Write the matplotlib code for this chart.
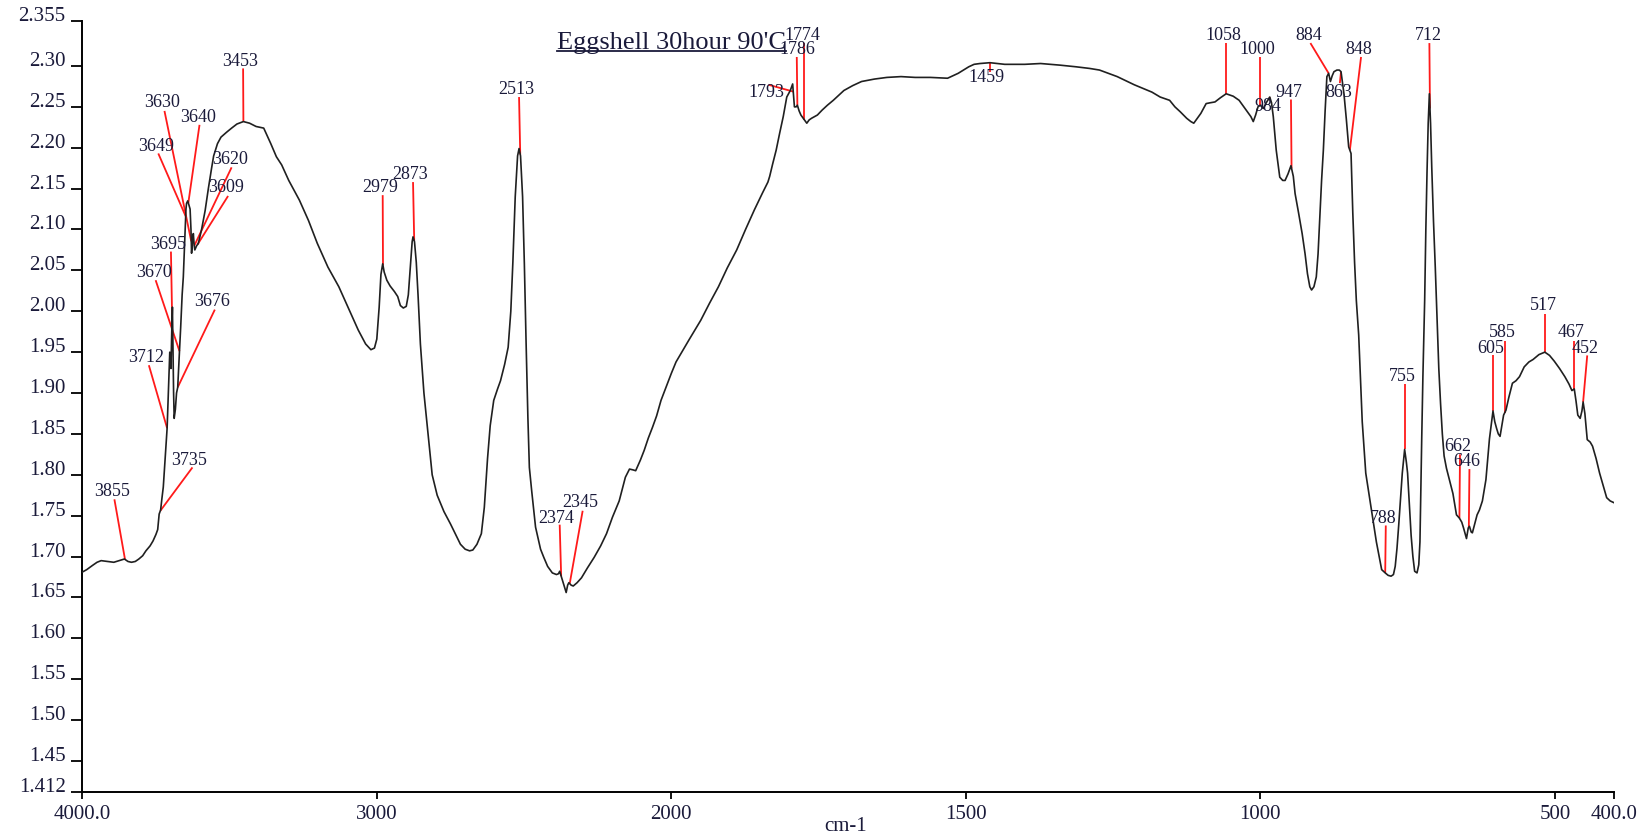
import matplotlib
matplotlib.use('Agg')
import matplotlib.pyplot as plt
import numpy as np
from matplotlib.lines import Line2D

# Спектр (волновое число, см-1 -> поглощение)
wavenumber = [
    4000, 3985, 3966, 3950, 3936, 3915, 3893, 3875, 3857, 3845, 3833, 3820, 3808, 3795,
    3784, 3770, 3760, 3750, 3744, 3739, 3734, 3730, 3725,
    3721, 3717, 3712, 3708, 3703, 3699, 3696, 3694, 3692, 3690, 3688, 3684, 3680, 3676,
    3673, 3671, 3666, 3661, 3657, 3652, 3648, 3646, 3642, 3638, 3634, 3631, 3629, 3626,
    3623, 3620, 3618, 3612, 3606, 3595, 3583, 3572, 3561, 3554,
    3541, 3529, 3510, 3493, 3475, 3453, 3432, 3410, 3384, 3360,
    3341, 3323, 3299, 3263, 3232, 3202, 3166, 3129, 3093, 3063, 3038, 3020, 3008, 3000,
    2992, 2986, 2980, 2975, 2966, 2955, 2940, 2929, 2920, 2910, 2900, 2893, 2887, 2880,
    2877, 2872, 2866, 2860, 2852, 2840, 2826, 2812, 2795, 2772, 2750, 2735, 2716, 2700,
    2685, 2674, 2660, 2645, 2635, 2624, 2615, 2603, 2590, 2580, 2566, 2554, 2545, 2538,
    2530, 2522, 2517, 2512, 2505, 2499, 2493, 2487, 2482, 2474, 2461, 2444, 2433, 2420,
    2404, 2390, 2383, 2379, 2374, 2369, 2362, 2357, 2352, 2348, 2340, 2333, 2320, 2305,
    2285, 2262, 2240, 2220, 2200, 2177, 2156, 2142, 2130, 2121, 2105, 2092, 2078, 2064,
    2050, 2035, 2015, 2000, 1992, 1970, 1950, 1935, 1920, 1905, 1889, 1874, 1859, 1845,
    1836, 1833, 1828, 1822, 1816, 1810, 1804, 1798, 1794, 1791, 1788, 1786, 1783, 1780,
    1776, 1773, 1770, 1766, 1762, 1752, 1744, 1735, 1725, 1716, 1707, 1692, 1677, 1655,
    1634, 1610, 1586, 1560, 1531, 1522, 1513, 1504, 1495, 1486, 1476, 1459, 1434, 1400,
    1373, 1340, 1313, 1290, 1273, 1243, 1214, 1184, 1170, 1154, 1145, 1136, 1125, 1118,
    1113, 1107, 1101, 1092, 1085, 1077, 1068, 1058, 1046, 1036, 1024, 1016, 1012, 1008,
    1004, 1000, 995, 990, 984, 981, 978, 973, 967, 962, 958, 953, 948, 944,
    941, 935, 929, 924, 920, 916, 913, 909, 905, 902, 899, 896, 893, 890,
    887, 884, 881, 878, 875, 870, 866, 863, 858, 854, 850, 846, 843, 840,
    837, 833, 827, 821, 812, 803, 797, 794, 788, 783, 778, 774, 771, 768,
    765, 762, 759, 755, 752, 750, 747, 744, 741, 738, 734, 731, 729, 726,
    724, 721, 719, 717, 715, 713, 711, 709, 706, 703, 700, 697, 694, 691,
    688, 684, 679, 673, 667, 662, 658, 655, 650, 647, 645, 642, 640, 636,
    632, 628, 623, 617, 611, 605, 602, 599, 596, 593, 590, 587, 583, 578,
    572, 566, 560, 552, 544, 537, 527, 517, 509, 501, 492, 483, 476, 471,
    467, 464, 461, 457, 454, 452, 449, 445, 440, 436, 430, 424, 418, 412,
    406, 400,
]
absorbance = [
    1.681, 1.684, 1.689, 1.693, 1.695, 1.694, 1.693, 1.695, 1.697, 1.694, 1.693, 1.694, 1.697, 1.701,
    1.707, 1.713, 1.719, 1.727, 1.733, 1.752, 1.757, 1.770, 1.785,
    1.807, 1.830, 1.857, 1.900, 1.950, 1.930, 1.980, 2.005, 1.950, 1.900, 1.869, 1.880, 1.900, 1.907,
    1.930, 1.944, 1.980, 2.020, 2.042, 2.090, 2.125, 2.132, 2.135, 2.130, 2.125, 2.100, 2.071, 2.085,
    2.095, 2.080, 2.075, 2.080, 2.083, 2.100, 2.123, 2.150, 2.175, 2.190,
    2.205, 2.213, 2.219, 2.224, 2.229, 2.232, 2.230, 2.226, 2.224, 2.205,
    2.189, 2.179, 2.160, 2.136, 2.111, 2.083, 2.054, 2.030, 2.001, 1.977, 1.960, 1.953, 1.955, 1.966,
    2.005, 2.045, 2.058, 2.048, 2.038, 2.031, 2.024, 2.018, 2.007, 2.004, 2.006, 2.020, 2.050, 2.085,
    2.091, 2.085, 2.060, 2.020, 1.960, 1.900, 1.850, 1.800, 1.775, 1.755, 1.740, 1.729, 1.715, 1.709,
    1.707, 1.708, 1.715, 1.728, 1.760, 1.820, 1.860, 1.891, 1.905, 1.915, 1.935, 1.956, 2.000, 2.060,
    2.140, 2.190, 2.199, 2.190, 2.140, 2.058, 1.960, 1.870, 1.809, 1.780, 1.736, 1.709, 1.699, 1.688,
    1.680, 1.678, 1.679, 1.682, 1.676, 1.670, 1.662, 1.656, 1.665, 1.668, 1.665, 1.664, 1.668, 1.674,
    1.686, 1.699, 1.713, 1.728, 1.748, 1.768, 1.797, 1.807, 1.806, 1.805, 1.818, 1.830, 1.845, 1.858,
    1.872, 1.891, 1.910, 1.924, 1.938, 1.965, 1.989, 2.010, 2.030, 2.053, 2.075, 2.100, 2.124, 2.145,
    2.158, 2.165, 2.180, 2.197, 2.218, 2.238, 2.262, 2.270, 2.278, 2.250, 2.250, 2.252, 2.245, 2.240,
    2.236, 2.233, 2.230, 2.234, 2.236, 2.240, 2.246, 2.252, 2.258, 2.264, 2.270, 2.276, 2.281, 2.284,
    2.286, 2.287, 2.286, 2.286, 2.285, 2.288, 2.291, 2.295, 2.299, 2.302, 2.303, 2.304, 2.302, 2.302,
    2.303, 2.301, 2.299, 2.297, 2.295, 2.287, 2.277, 2.268, 2.262, 2.258, 2.250, 2.244, 2.236, 2.232,
    2.230, 2.236, 2.242, 2.254, 2.255, 2.256, 2.261, 2.266, 2.263, 2.258, 2.246, 2.238, 2.232, 2.240,
    2.250, 2.252, 2.248, 2.255, 2.262, 2.255, 2.238, 2.197, 2.164, 2.160, 2.160, 2.168, 2.178, 2.165,
    2.144, 2.120, 2.095, 2.070, 2.046, 2.030, 2.026, 2.030, 2.042, 2.070, 2.115, 2.160, 2.197, 2.245,
    2.287, 2.291, 2.281, 2.288, 2.293, 2.295, 2.295, 2.293, 2.266, 2.235, 2.201, 2.193, 2.120, 2.060,
    2.013, 1.971, 1.865, 1.802, 1.760, 1.718, 1.695, 1.684, 1.680, 1.677, 1.676, 1.678, 1.688, 1.710,
    1.739, 1.770, 1.802, 1.831, 1.815, 1.802, 1.765, 1.726, 1.700, 1.682, 1.680, 1.690, 1.718, 1.844,
    1.920, 2.013, 2.100, 2.170, 2.230, 2.266, 2.230, 2.177, 2.110, 2.054, 1.990, 1.930, 1.887, 1.850,
    1.823, 1.808, 1.794, 1.777, 1.751, 1.747, 1.742, 1.735, 1.722, 1.735, 1.737, 1.730, 1.729, 1.740,
    1.751, 1.757, 1.768, 1.794, 1.844, 1.878, 1.865, 1.857, 1.850, 1.847, 1.860, 1.873, 1.879, 1.895,
    1.912, 1.915, 1.920, 1.932, 1.938, 1.941, 1.947, 1.950, 1.946, 1.939, 1.930, 1.920, 1.911, 1.903,
    1.905, 1.890, 1.873, 1.869, 1.878, 1.889, 1.875, 1.843, 1.840, 1.835, 1.820, 1.802, 1.787, 1.772,
    1.768, 1.766,
]

# Подписи пиков
peak_names = ['3855', '3735', '3712', '3676', '3670', '3695', '3609', '3620', '3649', '3640',
              '3630', '3453', '2979', '2873', '2513', '2374', '2345', '1793', '1774', '1786',
              '1459', '1058', '1000', '984', '947', '884', '863', '848', '712', '755', '788',
              '662', '646', '605', '585', '517', '467', '452']

# Где стоит текст подписи и верхний конец красной линии (в координатах данных)
label_pos = [(3899, 1.780), (3639, 1.818), (3782, 1.943), (3560, 2.012), (3757, 2.047),
             (3708, 2.082), (3511, 2.151), (3499, 2.186), (3748, 2.202), (3608, 2.237),
             (3730, 2.255), (3465, 2.306), (2990, 2.151), (2887, 2.167), (2527, 2.271),
             (2390, 1.747), (2308, 1.766), (1838, 2.267), (1777, 2.337), (1786, 2.320),
             (1465, 2.286), (1062, 2.337), (1005, 2.320), (988, 2.251), (952, 2.267),
             (918, 2.337), (866, 2.267), (833, 2.320), (715, 2.337), (759, 1.920),
             (791, 1.746), (664, 1.834), (649, 1.816), (609, 1.955), (589, 1.974),
             (520, 2.007), (472, 1.974), (448, 1.955)]
line_top = [(3891, 1.770), (3626, 1.809), (3774, 1.934), (3550, 2.002), (3751, 2.038),
            (3699, 2.073), (3505, 2.141), (3493, 2.176), (3742, 2.193), (3602, 2.228),
            (3721, 2.245), (3454, 2.297), (2980, 2.142), (2877, 2.158), (2517, 2.262),
            (2379, 1.739), (2301, 1.756), (1835, 2.277), (1774, 2.328), (1787, 2.311),
            (1459, 2.293), (1058, 2.328), (1000, 2.311), (985, 2.258), (948, 2.259),
            (915, 2.328), (865, 2.279), (829, 2.311), (713, 2.328), (755, 1.911),
            (787, 1.738), (661, 1.825), (645, 1.807), (605, 1.946), (585, 1.964),
            (517, 1.997), (467, 1.964), (445, 1.946)]

x_ticks = [4000, 3000, 2000, 1500, 1000, 500, 400]
x_tick_labels = ['4000.0', '3000', '2000', '1500', '1000', '500', '400.0']
y_ticks = [2.355, 2.30, 2.25, 2.20, 2.15, 2.10, 2.05, 2.00, 1.95, 1.90, 1.85, 1.80,
           1.75, 1.70, 1.65, 1.60, 1.55, 1.50, 1.45, 1.412]
y_tick_labels = ['2.355', '2.30', '2.25', '2.20', '2.15', '2.10', '2.05', '2.00', '1.95',
                 '1.90', '1.85', '1.80', '1.75', '1.70', '1.65', '1.60', '1.55', '1.50',
                 '1.45', '1.412']

TEXT_COLOR = '#1a1a3a'


# Шкала с изломом на 2000: ниже 2000 см-1 масштаб в два раза крупнее
def forward(w):
    w = np.asarray(w, dtype=float)
    return np.where(w >= 2000, w, 2 * w - 2000)


def inverse(u):
    u = np.asarray(u, dtype=float)
    return np.where(u >= 2000, u, (u + 2000) / 2)


def create_graph():
    plt.rcParams['font.family'] = ['Liberation Serif', 'DejaVu Serif']

    fig = plt.figure(figsize=(16.46, 8.4), dpi=100)
    ax = fig.add_axes([0.05, 0.0571, 0.9304, 0.9179])

    ax.set_xscale('function', functions=(forward, inverse))
    ax.set_xlim(4000, 400)
    ax.set_ylim(1.412, 2.355)

    wn = np.array(wavenumber, dtype=float)
    ab = np.array(absorbance, dtype=float)
    ax.plot(wn, ab, color='#202020', lw=1.2, zorder=3)

    # Красные линии-выноски и подписи
    for name, (tx, ty), (lx, ly) in zip(peak_names, label_pos, line_top):
        p = float(name)
        py = np.interp(p, wn[::-1], ab[::-1])
        ax.plot([lx, p], [ly, py], color='#ff1a1a', lw=1.3, zorder=2, solid_capstyle='butt')
        ax.text(tx, ty, name, fontsize=13, color=TEXT_COLOR, ha='center', va='center', zorder=4)

    for side in ['top', 'right']:
        ax.spines[side].set_visible(False)
    for side in ['left', 'bottom']:
        ax.spines[side].set_linewidth(1.4)

    ax.xaxis.set_major_locator(matplotlib.ticker.FixedLocator(x_ticks))
    ax.xaxis.set_minor_locator(matplotlib.ticker.NullLocator())
    ax.set_xticklabels(x_tick_labels)
    ax.set_yticks(y_ticks)
    ax.set_yticklabels(y_tick_labels)
    ax.tick_params(axis='x', direction='out', length=5, width=1.3, pad=4,
                   labelsize=15, labelcolor=TEXT_COLOR)
    ax.tick_params(axis='y', direction='out', length=8, width=1.3, pad=4,
                   labelsize=15, labelcolor=TEXT_COLOR)
    for lab in ax.get_yticklabels():
        lab.set_va('baseline')

    fig.text(0.514, 0.0155, 'cm-1', fontsize=15, color=TEXT_COLOR, ha='center', va='center')

    # Заголовок с подчеркиванием
    title = fig.text(0.4077, 0.949, "Eggshell 30hour 90'C", fontsize=19,
                     color=TEXT_COLOR, ha='center', va='center')
    fig.canvas.draw()
    bb = title.get_window_extent()
    W, H = fig.bbox.width, fig.bbox.height
    y_line = (bb.y0 + 3) / H
    fig.add_artist(Line2D([bb.x0 / W, bb.x1 / W], [y_line, y_line],
                          color=TEXT_COLOR, lw=1.3, transform=fig.transFigure))

    fig.savefig('out.png', dpi=100)


if __name__ == '__main__':
    create_graph()
